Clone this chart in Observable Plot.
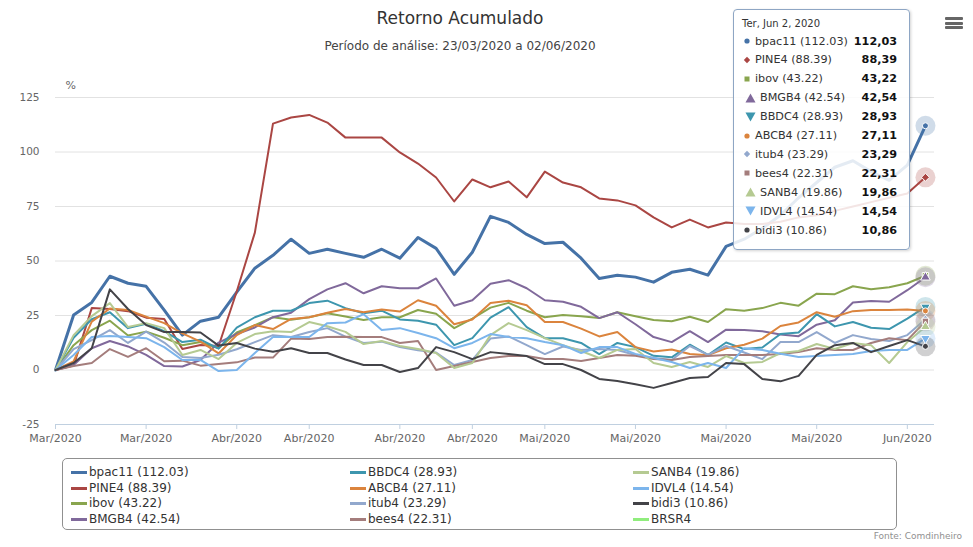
<!DOCTYPE html>
<html><head><meta charset="utf-8">
<script src="https://cdn.jsdelivr.net/npm/d3@7"></script>
<script src="https://cdn.jsdelivr.net/npm/@observablehq/plot@0.6"></script>
<style>
body{margin:0;background:#fff;font-family:"DejaVu Sans",sans-serif;}
#wrap{position:relative;width:973px;height:547px;overflow:hidden;background:#fff;}
#chart{position:absolute;left:0;top:0;}
.title{position:absolute;left:0;width:920px;top:8px;line-height:20px;text-align:center;font-size:17px;color:#333;}
.subtitle{position:absolute;left:0;width:920px;top:39px;line-height:14px;text-align:center;font-size:12px;color:#444;}
.menu{position:absolute;left:945px;width:18px;height:3px;background:#666;border-radius:1px;}
.tip{position:absolute;left:733px;top:9px;width:177px;height:241px;box-sizing:border-box;border:1px solid #8ea6c4;border-radius:4px;background:rgba(255,255,255,0.86);box-shadow:1px 1px 3px rgba(0,0,0,0.18);}
.tiphead{position:absolute;left:8px;top:8px;font-size:10px;line-height:12px;color:#333;}
.tiprow{position:absolute;left:0;width:163px;height:19px;line-height:19px;font-size:11.2px;color:#333;}
.tiprow .sym{position:absolute;top:0;height:19px;display:flex;align-items:center;}
.tiprow .nm{position:absolute;top:0;}
.tiprow .val{position:absolute;right:0;top:0;font-weight:bold;color:#111;}
.legend{position:absolute;left:62px;top:458px;width:835px;height:72px;box-sizing:border-box;border:1px solid #909090;border-radius:5px;}
.litem{position:absolute;height:15px;line-height:15px;font-size:12px;color:#333;white-space:nowrap;}
.litem .ln{position:absolute;left:0;top:6px;width:16px;height:3px;}
.litem .tx{position:absolute;left:18px;top:0;}
.credit{position:absolute;right:11px;top:531px;font-size:9px;line-height:11px;color:#909090;}
</style></head><body>
<div id="wrap">
  <div id="chart"></div>
  <div class="title">Retorno Acumulado</div>
  <div class="subtitle">Período de análise: 23/03/2020 a 02/06/2020</div>
  <div class="menu" style="top:17px"></div>
  <div class="menu" style="top:21.5px"></div>
  <div class="menu" style="top:26px"></div>
  <div class="tip" id="tip"></div>
  <div class="legend" id="legend"></div>
  <div class="credit">Fonte: Comdinheiro</div>
</div>
<script>
const dates = ["2020-03-23","2020-03-24","2020-03-25","2020-03-26","2020-03-27","2020-03-30","2020-03-31","2020-04-01","2020-04-02","2020-04-03","2020-04-06","2020-04-07","2020-04-08","2020-04-09","2020-04-13","2020-04-14","2020-04-15","2020-04-16","2020-04-17","2020-04-20","2020-04-22","2020-04-23","2020-04-24","2020-04-27","2020-04-28","2020-04-29","2020-04-30","2020-05-04","2020-05-05","2020-05-06","2020-05-07","2020-05-08","2020-05-11","2020-05-12","2020-05-13","2020-05-14","2020-05-15","2020-05-18","2020-05-19","2020-05-20","2020-05-21","2020-05-22","2020-05-25","2020-05-26","2020-05-27","2020-05-28","2020-05-29","2020-06-01","2020-06-02"];

const xTicks = [0,5,10,14,19,23,27,32,37,42,47];
const xTickLabels = ["Mar/2020","Mar/2020","Abr/2020","Abr/2020","Abr/2020","Abr/2020","Mai/2020","Mai/2020","Mai/2020","Mai/2020","Jun/2020"];
const yTicks = [-25,0,25,50,75,100,125];

const bpac11 = [0,25.2,31,43,39.8,38.4,27.5,16,22.4,24.2,35.7,46.7,52.6,60,53.5,55.4,53.5,51.7,55.4,51.3,60.8,55.8,43.9,54,70.5,67.7,62.2,58,58.6,51.3,42,43.5,42.6,40.3,44.8,46.2,43.5,56.7,60,65,71,79,86,93,96,91,87,94,112.03];
const PINE4 = [0,2,28.4,28,27,24,23.4,9.6,11.5,11,36,63,113,115.8,117,113.5,106.6,106.6,106.6,99.8,94.7,88.3,77.3,87.4,83.8,86.5,79.2,91,86,83.8,78.7,77.8,75.5,70,65.4,69,65.4,67.7,67,67,68,70,71,73,75,77,79,81,88.39];
const ibov = [0,11.4,18.3,22.6,15.8,17.6,14.8,11.4,12.8,10,17.2,20.6,24.2,23,24.2,26,24.5,22.9,24.2,24.2,27.5,25.8,19.2,23.6,28.6,30.8,27.2,24.2,25.2,24.7,23.8,26.5,24.7,22.9,22.4,24.4,22,27.9,27.2,28.4,30.8,29.5,35,34.8,38.4,37,38,39.8,43.22];
const BMGB4 = [0,2.3,10,13.3,10.8,6.9,1.8,1.6,4.6,12.6,16.5,19.5,24.2,26.3,32.5,37,39.8,35.2,38.4,37.5,37.5,42,29.5,32,39.6,41.2,37.5,32,31.3,29,23.8,26.5,21,15.1,12.8,17.8,12.8,18.5,18.3,17.8,16.3,15.5,20.8,22.8,31,31.6,31.3,36.6,42.54];
const BBDC4 = [0,14.8,23.3,26.5,19.2,21.2,17.8,12.8,13.9,9.8,19.4,24.2,27.2,27.2,30.7,31.8,28.4,26,27.2,23.2,22.6,20.8,11.4,14.6,24,28.8,19.7,14.6,14.6,12.4,7.3,12.4,10.5,6.5,5.8,11.6,6.9,12.6,9.6,10.3,16.5,17.2,25.6,20,22,19.4,18.8,23.6,28.93];
const ABCB4 = [0,4,22.2,28.2,27.5,24.5,21.5,16.8,13,7.6,16,20.6,18.8,23.4,24.2,26.3,28,26.5,27.7,26.8,32,29.5,21,23.2,30.7,31.8,29.7,22,22,19,15.4,17.4,10.5,8.5,9.4,7.3,6.8,10,11.6,14.4,20.2,21.8,26.5,24.4,27,27.5,27.5,27.7,27.11];
const itub4 = [0,9.6,13.7,18.3,12.4,17.6,12.6,6,5.5,7,9.5,12.8,16,15.1,17.4,19.2,15.3,12.4,13,10.5,9,8,2.3,4.6,14.4,15.4,11.4,7.3,10.8,9.2,9.6,9.2,6.9,5.5,4.6,11,6.9,11,8,5,12.8,12.8,17.4,12.4,16,14.2,13.3,16,23.29];
const bees4 = [0,1.8,3.2,9.6,6,10,4,4.3,2,2.7,3.5,5.7,5.7,14.4,14.2,15.1,15.3,15.1,15.1,12.4,13.3,0,1.8,3.7,5.5,6.4,6.4,5,5,4.1,5.5,6.9,6.5,5,4.6,6,6.4,6.9,6.9,6.9,7.3,8.2,10,9.2,9.2,12.4,14.6,13.7,22.31];
const SANB4 = [0,16,24.7,30.7,19.7,21.5,19.2,6.9,9.2,5,12.4,16.5,17.8,17.4,22,20.1,17.5,11.9,13.3,11,9.6,7.8,0.9,3.2,16,21.5,18.3,14.6,11.4,8.7,5.5,9.2,9.6,3.2,1.4,3.7,1.4,6.4,3.2,3.7,7.8,8.7,11.9,9.6,12.4,11.4,3.2,12.8,19.86];
const IDVL4 = [0,6.9,15.1,15.6,15.1,14.6,10.5,4.6,4.6,-0.5,0,7.8,15.1,15.1,15.1,21.5,21.8,25.6,18.3,19.2,17,14.6,10,12.4,16.5,15.1,14.6,12.8,11.4,7.8,10.5,10.5,7.4,5.5,3.7,0.9,3.2,0.9,10,9.2,7.5,6,6.4,6.9,7.3,8.7,9.2,9.2,14.54];
const bidi3 = [0,3.2,10,37,28,20.6,17.4,17.4,17.2,11.2,12.4,9.8,8.4,10,7.8,7.8,4.8,2.3,2.3,-0.9,0.9,10.5,8.2,5,8.2,7.3,6.4,2.7,2.7,0,-4.1,-5,-6.5,-8.2,-6,-3.7,-3.2,3.2,2.7,-4.1,-5.2,-2.7,6.9,11.4,12.4,8.2,11,13.7,10.86];
const BRSR4 = [];

const names = ["bpac11","PINE4","ibov","BMGB4","BBDC4","ABCB4","itub4","bees4","SANB4","IDVL4","bidi3","BRSR4"];
const seriesValues = [bpac11,PINE4,ibov,BMGB4,BBDC4,ABCB4,itub4,bees4,SANB4,IDVL4,bidi3,BRSR4];
const colors = ["#4572A7","#AA4643","#89A54E","#80699B","#3D96AE","#DB843D","#92A8CD","#A47D7C","#B5CA92","#7CB5EC","#434348","#90ED7D"];
const symbols = ["circle","diamond","square","triangle","triangle-down","circle","diamond","square","triangle","triangle-down","circle","circle"];

const series = names.map((name, k) => ({
  name, color: colors[k], symbol: symbols[k],
  rows: seriesValues[k].map((v, i) => ({name, i, date: dates[i], v}))
}));
const drawn = series.filter(s => s.rows.length);

const marks = [
  Plot.gridY(yTicks, {stroke: "#e2e2e2", strokeOpacity: 1}),
  Plot.axisY(yTicks, {label: null, tickSize: 0, tickPadding: 16, fontSize: 10.5, fill: "#666", tickFormat: d => String(d)}),
  Plot.text(["%"], {frameAnchor: "top-left", dx: 10, dy: -16, textAnchor: "start", fontSize: 11, fill: "#666"}),
  Plot.ruleY([-25], {stroke: "#C0D0E0", strokeWidth: 1}),
  Plot.axisX(xTicks, {label: null, tickSize: 5, tickPadding: 5, stroke: "#C0D0E0", fill: "#666", fontSize: 11,
    tickFormat: d => xTickLabels[xTicks.indexOf(d)]})
];
for (const s of drawn) {
  marks.push(Plot.line(s.rows, {x: "i", y: "v", stroke: s.color, strokeWidth: s.name === "bpac11" ? 3 : 2, strokeLinejoin: "round"}));
}
for (const s of drawn) {
  marks.push(Plot.dot(s.rows.slice(-1), {x: "i", y: "v", r: 10, fill: s.color, fillOpacity: 0.25}));
}
const plotSym = {"circle": "circle", "diamond": "diamond2", "square": "square", "triangle": "triangle", "triangle-down": "triangle"};
for (const s of drawn) {
  marks.push(Plot.dot(s.rows.slice(-1), {x: "i", y: "v", r: s.symbol === "circle" ? 3 : 3.6,
    symbol: plotSym[s.symbol], rotate: s.symbol === "triangle-down" ? 180 : 0,
    fill: s.color, stroke: "#fff", strokeWidth: 1}));
}

const chart = Plot.plot({
  width: 973, height: 547,
  marginTop: 97, marginBottom: 123, marginLeft: 55, marginRight: 39,
  style: {fontFamily: "DejaVu Sans", background: "transparent"},
  x: {type: "linear", domain: [0, 48.5], axis: null, label: null},
  y: {domain: [-25, 125], axis: null, label: null},
  marks
});
document.getElementById("chart").appendChild(chart);

function symSvg(sym, color) {
  if (sym === "circle") return `<svg width="8" height="8"><circle cx="4" cy="4" r="2.6" fill="${color}"/></svg>`;
  if (sym === "diamond") return `<svg width="8" height="8"><polygon points="4,0.8 7.2,4 4,7.2 0.8,4" fill="${color}"/></svg>`;
  if (sym === "square") return `<svg width="8" height="8"><rect x="1.5" y="1.5" width="5" height="5" fill="${color}"/></svg>`;
  if (sym === "triangle") return `<svg width="11" height="10"><polygon points="5.5,0.5 10.5,9.5 0.5,9.5" fill="${color}"/></svg>`;
  return `<svg width="11" height="10"><polygon points="0.5,0.5 10.5,0.5 5.5,9.5" fill="${color}"/></svg>`;
}

// tooltip
const tip = document.getElementById("tip");
const last = new Date(dates[dates.length - 1] + "T12:00:00");
const wd = ["Dom","Seg","Ter","Qua","Qui","Sex","Sáb"][last.getDay()];
const mo = ["Jan","Feb","Mar","Apr","May","Jun","Jul","Aug","Sep","Oct","Nov","Dec"][last.getMonth()];
let html = `<div class="tiphead">${wd}, ${mo} ${last.getDate()}, ${last.getFullYear()}</div>`;
drawn.forEach((s, k) => {
  const v = s.rows[s.rows.length - 1].v;
  const big = s.symbol.startsWith("triangle");
  const top = 41 + 18.9 * k - 9 - 1 - 9.5;
  html += `<div class="tiprow" style="top:${top}px">
    <span class="sym" style="left:${big ? 11 : 9}px">${symSvg(s.symbol, s.color)}</span>
    <span class="nm" style="left:${big ? 26 : 21}px">${s.name} (${v.toFixed(2)})</span>
    <span class="val">${v.toFixed(2).replace(".", ",")}</span></div>`;
});
tip.innerHTML = html;

// legend
const legend = document.getElementById("legend");
let lh = "";
const colX = [8, 287, 570];
const rowY = [6, 21.5, 37, 52.5];
series.forEach((s, k) => {
  const c = Math.floor(k / 4), r = k % 4;
  const lastV = s.rows.length ? ` (${s.rows[s.rows.length - 1].v.toFixed(2)})` : "";
  lh += `<div class="litem" style="left:${colX[c]}px;top:${rowY[r]}px"><span class="ln" style="background:${s.color}"></span><span class="tx">${s.name}${lastV}</span></div>`;
});
legend.innerHTML = lh;
</script>
</body></html>
